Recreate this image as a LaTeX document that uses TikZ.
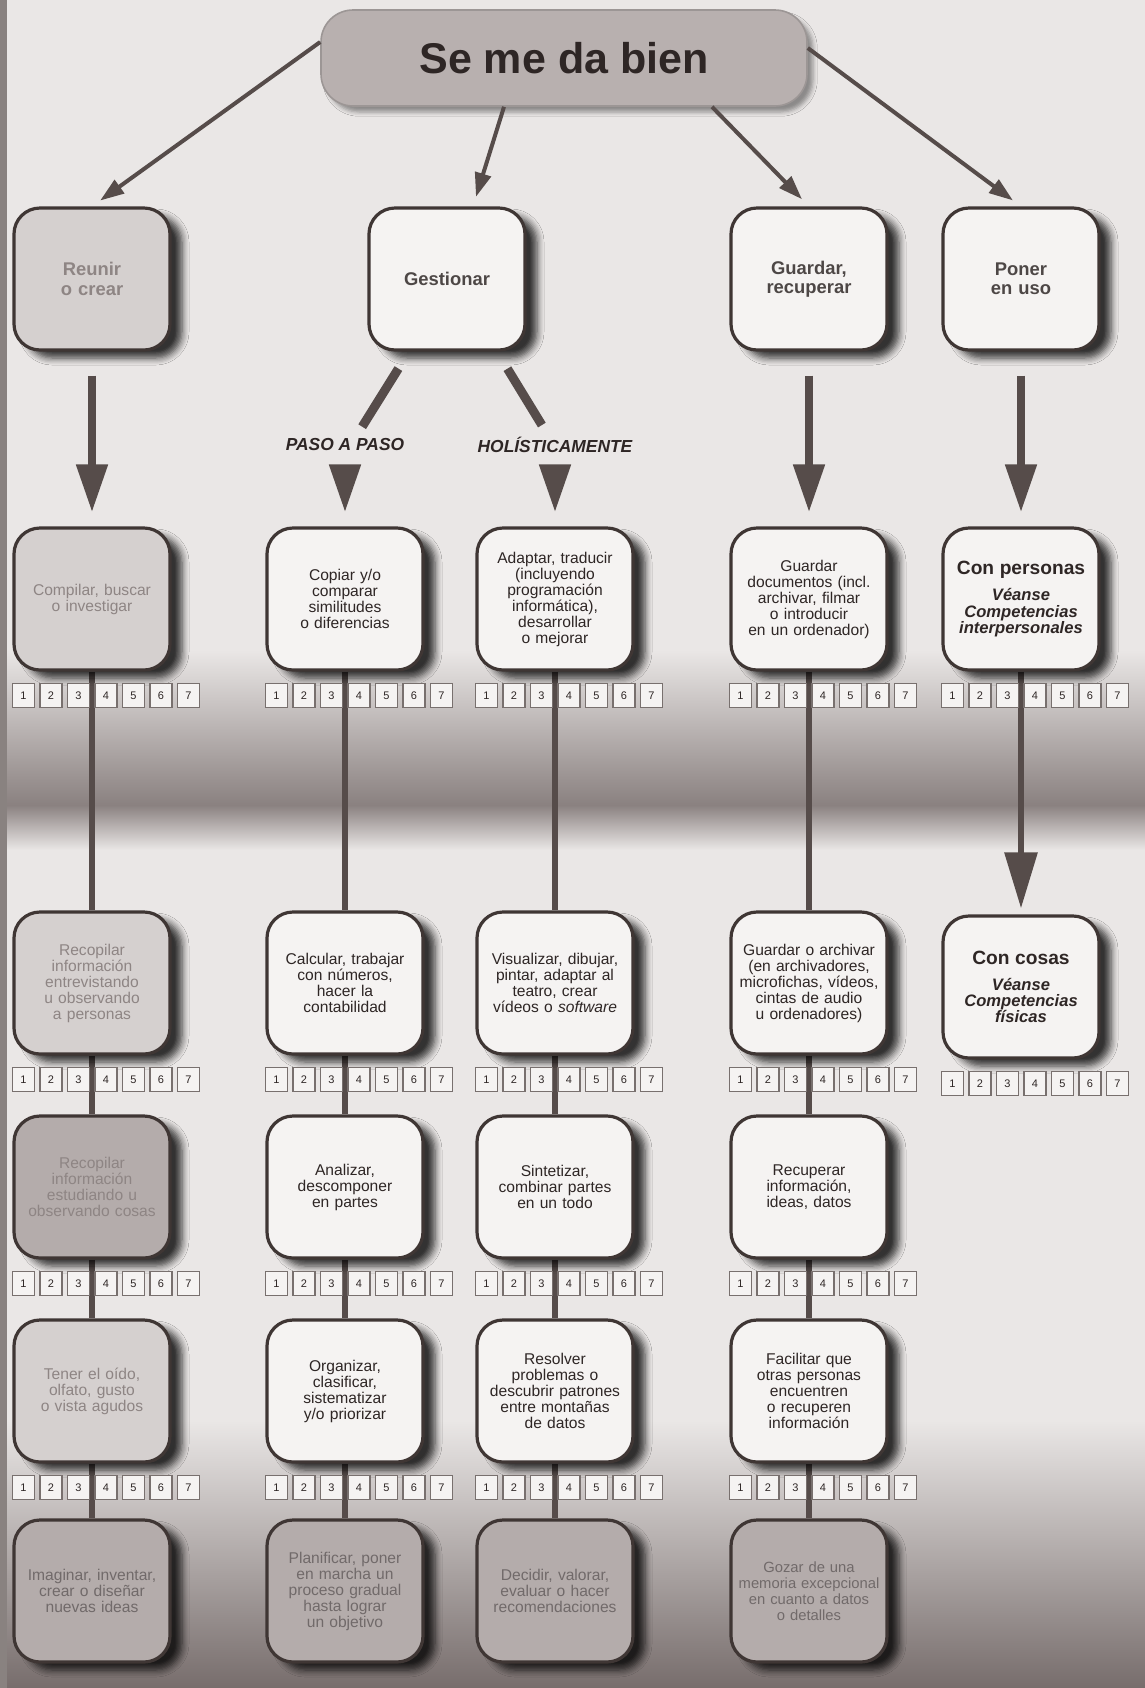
\documentclass[tikz,border=0pt]{standalone}
\usepackage{fontspec}
\setmainfont{Liberation Sans}
\usetikzlibrary{arrows.meta,calc,backgrounds,shadows.blur}

\definecolor{ink}{HTML}{2E2625}
\definecolor{rim}{HTML}{3F3634}
\definecolor{wire}{HTML}{564C4A}
\definecolor{paper}{HTML}{EAE7E6}
\definecolor{band}{HTML}{8A8180}
\definecolor{floor}{HTML}{776D6C}
\definecolor{card}{HTML}{F5F3F2}
\definecolor{cardfade}{HTML}{D5D0CF}
\definecolor{carddim}{HTML}{B4ACAB}
\definecolor{inkfade}{HTML}{8E8584}
\definecolor{pill}{HTML}{B8B0AF}

\tikzset{
  card/.style={draw=rim, line width=1.6pt, fill=card, rounded corners=13pt,
    minimum width=78pt, minimum height=71pt, text width=76pt, inner xsep=1pt,
    align=center, text=ink, font=\fontsize{7.8}{8.0}\selectfont,
    blur shadow={shadow xshift=6pt, shadow yshift=-4pt, shadow blur steps=6,
      shadow blur radius=3.5pt, shadow opacity=78}},
  head/.style={card, font=\bfseries\fontsize{9.2}{9.6}\selectfont, text=ink!85},
  faded/.style={fill=cardfade, text=inkfade},
  dimmed/.style={fill=carddim, text=inkfade!80!black},
  score/.style={draw=wire!80, line width=0.6pt, fill=card, minimum width=11pt,
    minimum height=12pt, inner sep=0pt, font=\fontsize{5.5}{6}\selectfont, text=ink},
  link/.style={draw=wire, line width=3pt},
  drop/.style={draw=wire, line width=4pt, -{Triangle[length=24pt,width=15pt]}},
  fan/.style={draw=wire, line width=2pt, -{Triangle[length=12pt,width=8pt]}},
  split/.style={draw=wire, line width=4.5pt},
  way/.style={font=\bfseries\itshape\fontsize{8.7}{9}\selectfont, text=ink},
}

\begin{document}
\begin{tikzpicture}[x=0.5pt, y=-0.5pt, >=Stealth]
    \useasboundingbox (0,0) rectangle (1145,1688);

    % Titel
    \node[draw=pill!85!black, line width=0.8pt, fill=pill, rounded corners=16pt,
      minimum width=243pt, minimum height=48pt, text=ink,
      font=\bfseries\fontsize{21.5}{24}\selectfont,
      blur shadow={shadow xshift=3pt, shadow yshift=-3pt, shadow opacity=40}]
      (title) at (564,58) {Se me da bien};

    % erste Ebene
    \node[head, faded] (reunir) at (92,279) {Reunir\\o crear};
    \node[head] (gest) at (447,279) {Gestionar};
    \node[head] (guardar) at (809,279) {Guardar,\\recuperar};
    \node[head] (poner) at (1021,279) {Poner\\en uso};

    \node[way] (paso) at (345,445) {PASO A PASO};
    \node[way] (holis) at (555,445) {HOLÍSTICAMENTE};

    % Spalte Reunir
    \node[card, faded] (a1) at (92,599) {Compilar, buscar\\o investigar};
    \node[card, faded] (a2) at (92,983) {Recopilar\\información\\entrevistando\\u observando\\a personas};
    \node[card, faded, fill=carddim] (a3) at (92,1187) {Recopilar\\información\\estudiando u\\observando cosas};
    \node[card, faded] (a4) at (92,1391) {Tener el oído,\\olfato, gusto\\o vista agudos};
    \node[card, dimmed] (a5) at (92,1591) {Imaginar, inventar,\\crear o diseñar\\nuevas ideas};

    % Spalte paso a paso
    \node[card] (b1) at (345,599) {Copiar y/o\\comparar\\similitudes\\o diferencias};
    \node[card] (b2) at (345,983) {Calcular, trabajar\\con números,\\hacer la\\contabilidad};
    \node[card] (b3) at (345,1187) {Analizar,\\descomponer\\en partes};
    \node[card] (b4) at (345,1391) {Organizar,\\clasificar,\\sistematizar\\y/o priorizar};
    \node[card, dimmed] (b5) at (345,1591) {Planificar, poner\\en marcha un\\proceso gradual\\hasta lograr\\un objetivo};

    % Spalte holistisch
    \node[card] (c1) at (555,599) {Adaptar, traducir\\(incluyendo\\programación\\informática),\\desarrollar\\o mejorar};
    \node[card] (c2) at (555,983) {Visualizar, dibujar,\\pintar, adaptar al\\teatro, crear\\vídeos o \textit{software}};
    \node[card] (c3) at (555,1187) {Sintetizar,\\combinar partes\\en un todo};
    \node[card] (c4) at (555,1391) {Resolver\\problemas o\\descubrir patrones\\entre montañas\\de datos};
    \node[card, dimmed] (c5) at (555,1591) {Decidir, valorar,\\evaluar o hacer\\recomendaciones};

    % Spalte Guardar
    \node[card] (d1) at (809,599) {Guardar\\documentos (incl.\\archivar, filmar\\o introducir\\en un ordenador)};
    \node[card] (d2) at (809,983) {Guardar o archivar\\(en archivadores,\\microfichas, vídeos,\\cintas de audio\\u ordenadores)};
    \node[card] (d3) at (809,1187) {Recuperar\\información,\\ideas, datos};
    \node[card] (d4) at (809,1391) {Facilitar que\\otras personas\\encuentren\\o recuperen\\información};
    \node[card, dimmed, font=\fontsize{7.4}{8.0}\selectfont] (d5) at (809,1591) {Gozar de una\\memoria excepcional\\en cuanto a datos\\o detalles};

    % Spalte Poner en uso
    \node[card, font=\bfseries\itshape\fontsize{8.3}{8.1}\selectfont] (e1) at (1021,599)
      {{\upshape\fontsize{9.6}{11}\selectfont Con personas}\\[5pt]Véanse\\Competencias\\interpersonales};
    \node[card, font=\bfseries\itshape\fontsize{8.3}{8.1}\selectfont] (e2) at (1021,987)
      {{\upshape\fontsize{9.6}{11}\selectfont Con cosas}\\[5pt]Véanse\\Competencias\\físicas};

    % Bewertungskästchen 1-7
    \foreach \b in {a1,a2,a3,a4,b1,b2,b3,b4,c1,c2,c3,c4,d1,d2,d3,d4,e1,e2} {
        \foreach \k in {1,...,7} {
            \node[score] (\b-\k) at ($(\b.south west)+({(\k-1)*27.5+11},24)$) {\k};
        }
    }

    % Pfeile vom Titel
    \draw[fan, shorten >=5pt] ([yshift=8pt]title.west) -- (reunir.north);
    \draw[fan, shorten >=5pt] ([xshift=-30pt]title.south) -- ([xshift=13pt]gest.north);
    \draw[fan, shorten >=5pt] ([xshift=74pt]title.south) -- (guardar.north);
    \draw[fan, shorten >=5pt] ([yshift=5pt]title.east) -- (poner.north);

    % dicke Pfeile nach unten
    \draw[drop, shorten <=12pt, shorten >=7pt] (reunir) -- (a1);
    \draw[drop, shorten <=12pt, shorten >=7pt] (guardar) -- (d1);
    \draw[drop, shorten <=12pt, shorten >=7pt] (poner) -- (e1);
    \draw[split, shorten <=10pt, shorten >=3pt] ([xshift=-19pt]gest.south) -- ([xshift=7pt]paso.north);
    \draw[split, shorten <=10pt, shorten >=3pt] ([xshift=25pt]gest.south) -- ([xshift=-5pt]holis.north);
    \draw[drop, shorten <=6pt, shorten >=7pt] (paso) -- (b1);
    \draw[drop, shorten <=6pt, shorten >=7pt] (holis) -- (c1);

    \begin{scope}[on background layer]
        % Papier und Schatten des Fotos
        \fill[paper] (0,0) rectangle (1145,1688);
        \shade[top color=paper, bottom color=band] (0,650) rectangle (1145,805);
        \shade[top color=band, bottom color=paper] (0,805) rectangle (1145,850);
        \shade[top color=paper, bottom color=floor] (0,1420) rectangle (1145,1688);
        \fill[wire!70] (0,0) rectangle (7,1688);
        % Verbindungen
        \foreach \col in {a,b,c,d} {
            \foreach \r/\s in {1/2,2/3,3/4,4/5} {
                \draw[link] (\col\r.south) -- (\col\s.north);
            }
        }
        \draw[drop, line width=3pt, -{Triangle[length=28pt,width=16pt]}, shorten >=3pt] (e1.south) -- (e2.north);
    \end{scope}
\end{tikzpicture}
\end{document}
